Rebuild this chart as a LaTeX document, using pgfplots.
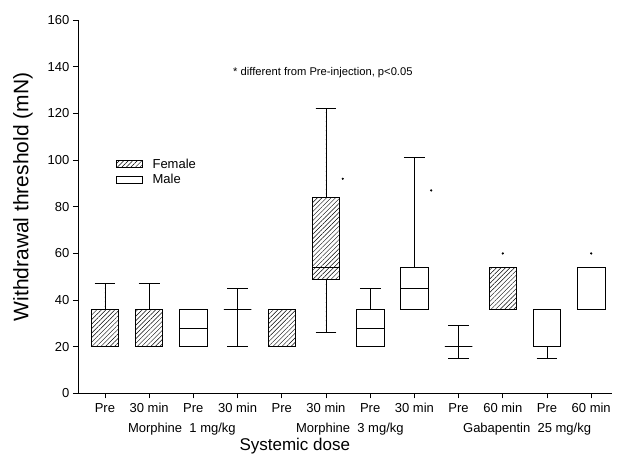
\documentclass[border=0pt]{standalone}
\usepackage{fontspec}
\setmainfont{Liberation Sans}
\usepackage{pgfplots}
\pgfplotsset{compat=1.18}
\usepgfplotslibrary{statistics}
\usetikzlibrary{patterns.meta}

\tikzset{hatch/.style={pattern={Lines[angle=45,distance=3.2pt,line width=0.45pt]}}}

\begin{document}
\begin{tikzpicture}
\begin{axis}[
    scale only axis,
    width=534pt, height=373.5pt,
    xmin=0.39, xmax=12.47, ymin=0, ymax=160,
    axis x line*=bottom, axis y line*=left,
    every outer x axis line/.append style={-},
    every outer y axis line/.append style={-},
    axis line style={line width=0.7pt},
    ytick={0,20,...,160},
    xtick={1,...,12},
    xticklabels={Pre,30 min,Pre,30 min,Pre,30 min,Pre,30 min,Pre,60 min,Pre,60 min},
    tick align=outside, major tick length=5pt,
    tick style={black, line width=0.7pt},
    /pgf/number format/assume math mode=true,
    yticklabel style={font=\fontsize{13}{15}\selectfont},
    xticklabel style={font=\fontsize{13}{15}\selectfont, yshift=-1.5pt},
    ylabel={Withdrawal threshold (mN)},
    ylabel style={font=\fontsize{21}{24}\selectfont, at={(axis description cs:-0.103,0.526)}, anchor=center},
    xlabel={Systemic dose},
    xlabel style={font=\fontsize{17}{20}\selectfont, at={(axis description cs:0.406,-0.1406)}, anchor=center},
    boxplot/draw direction=y,
    clip=false,
    legend image code/.code={\draw[#1] (0pt,-3.5pt) rectangle (26pt,3.5pt);},
    legend style={draw=none, fill=none, at={(0.065,0.64)}, anchor=north west,
        font=\fontsize{13}{15}\selectfont, row sep=1pt,
        /tikz/every odd column/.append style={column sep=8pt}},
    legend cell align=left,
]
\addlegendimage{hatch, draw=black, line width=0.7pt}
\addlegendentry{Female}
\addlegendimage{draw=black, line width=0.7pt}
\addlegendentry{Male}

\pgfplotsset{every boxplot/.style={forget plot, draw=black, line width=0.7pt,
    boxplot/box extend=0.62, boxplot/whisker extend=0.47}}

% Morphine 1 mg/kg
\addplot[hatch, boxplot prepared={draw position=1, lower whisker=20, lower quartile=20, median=20, upper quartile=36, upper whisker=47}] coordinates {};
\addplot[hatch, boxplot prepared={draw position=2, lower whisker=20, lower quartile=20, median=20, upper quartile=36, upper whisker=47}] coordinates {};
\addplot[boxplot prepared={draw position=3, lower whisker=20, lower quartile=20, median=28, upper quartile=36, upper whisker=36}] coordinates {};
\addplot[boxplot prepared={draw position=4, lower whisker=20, lower quartile=36, median=36, upper quartile=36, upper whisker=45}] coordinates {};
% Morphine 3 mg/kg
\addplot[hatch, boxplot prepared={draw position=5, lower whisker=20, lower quartile=20, median=20, upper quartile=36, upper whisker=36}] coordinates {};
\addplot[hatch, boxplot prepared={draw position=6, lower whisker=26, lower quartile=49, median=54, upper quartile=84, upper whisker=122}] coordinates {};
\addplot[boxplot prepared={draw position=7, lower whisker=20, lower quartile=20, median=28, upper quartile=36, upper whisker=45}] coordinates {};
\addplot[boxplot prepared={draw position=8, lower whisker=36, lower quartile=36, median=45, upper quartile=54, upper whisker=101}] coordinates {};
% Gabapentin 25 mg/kg
\addplot[boxplot prepared={draw position=9, lower whisker=15, lower quartile=20, median=20, upper quartile=20, upper whisker=29}] coordinates {};
\addplot[hatch, boxplot prepared={draw position=10, lower whisker=36, lower quartile=36, median=36, upper quartile=54, upper whisker=54}] coordinates {};
\addplot[boxplot prepared={draw position=11, lower whisker=15, lower quartile=20, median=20, upper quartile=36, upper whisker=36}] coordinates {};
\addplot[boxplot prepared={draw position=12, lower whisker=36, lower quartile=36, median=36, upper quartile=54, upper whisker=54}] coordinates {};

% significance markers
\addplot[only marks, mark=*, mark size=0.9pt, black, forget plot] coordinates {(6.38,92) (8.38,87) (10,60) (12,60)};

\node[font=\fontsize{11.2}{13}\selectfont] at (axis cs:5.93,137.5) {* different from Pre-injection, p<0.05};
\node[font=\fontsize{13}{15}\selectfont] at (axis cs:2.74,-15.3) {Morphine\ \ 1 mg/kg};
\node[font=\fontsize{13}{15}\selectfont] at (axis cs:6.54,-15.3) {Morphine\ \ 3 mg/kg};
\node[font=\fontsize{13}{15}\selectfont] at (axis cs:10.55,-15.3) {Gabapentin\ \ 25 mg/kg};

% page frame matching the reference margins
\path (axis description cs:-0.146,-0.1807) rectangle (axis description cs:1.0094,1.0535);
\end{axis}
\end{tikzpicture}
\end{document}
